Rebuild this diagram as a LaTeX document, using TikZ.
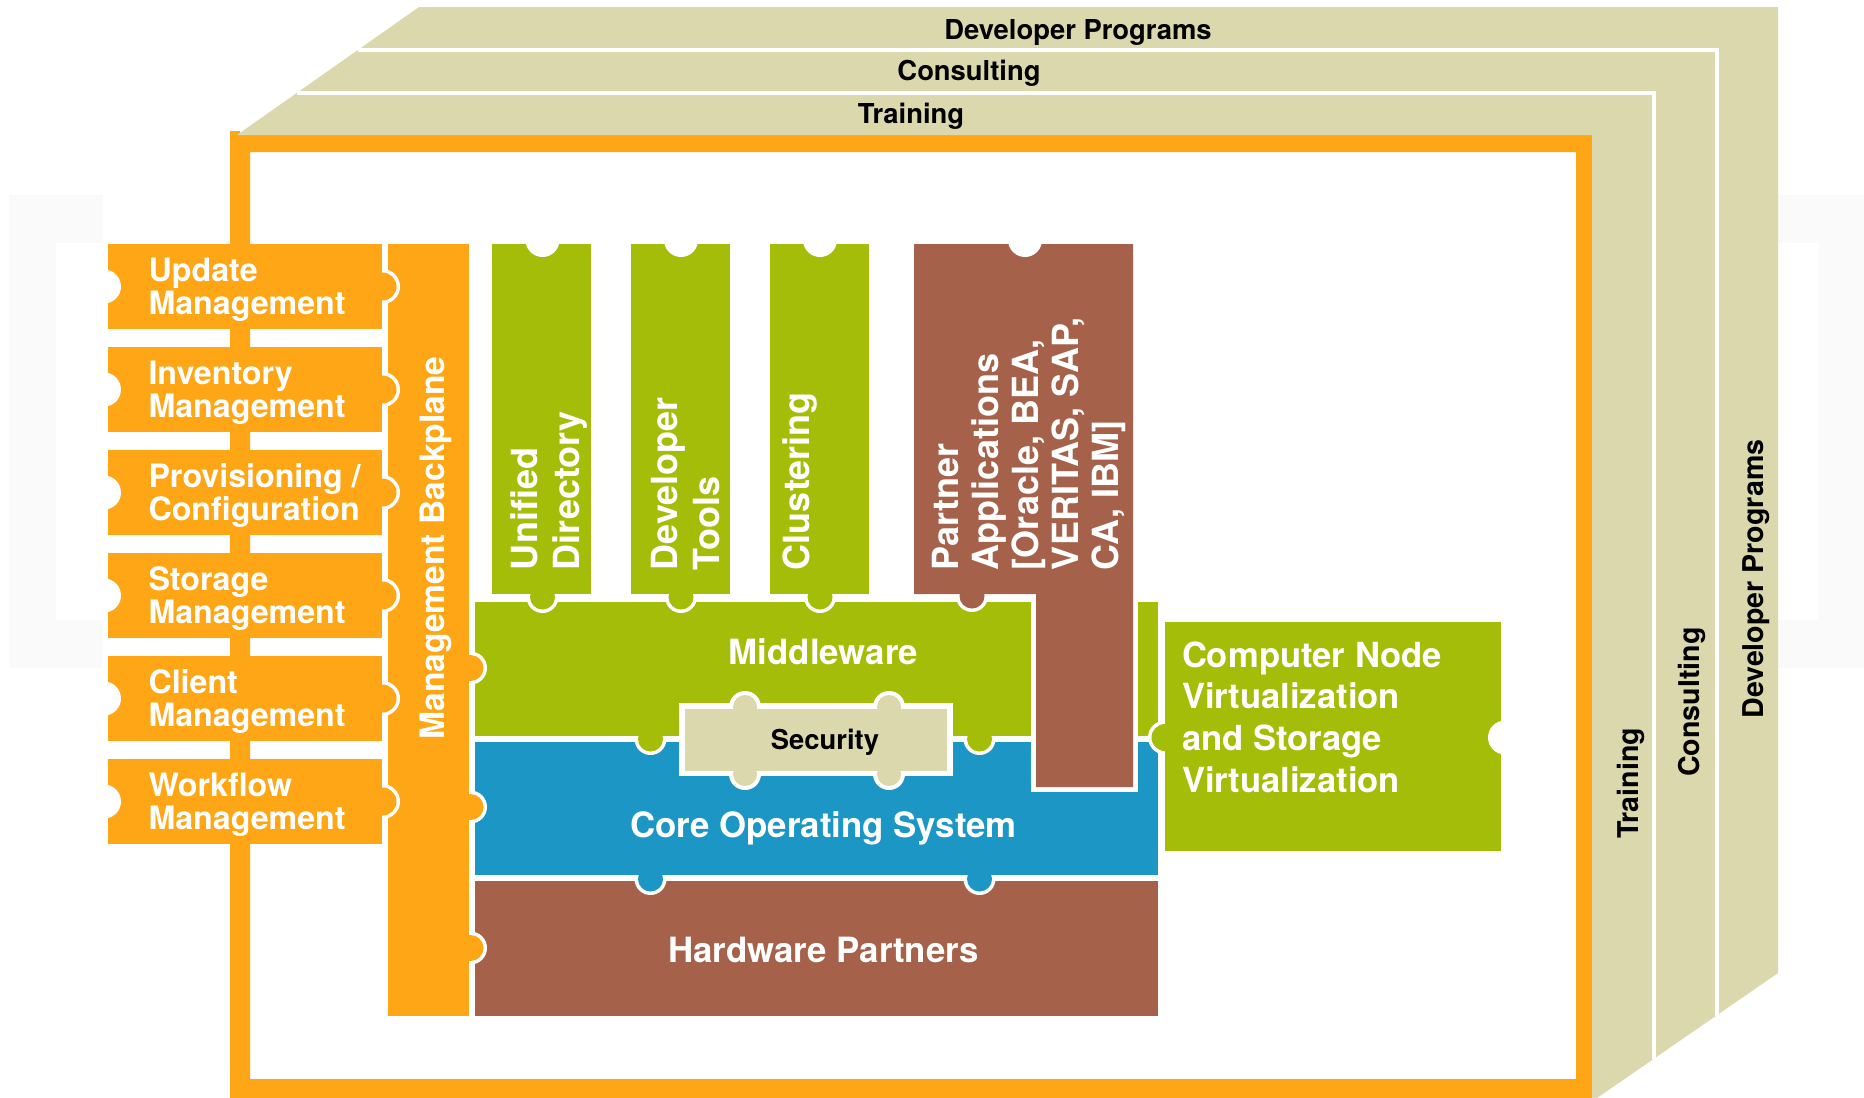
\documentclass[tikz,border=0pt]{standalone}
\usepackage{fontspec}
\setmainfont{TeX Gyre Heros}
\definecolor{cOrange}{HTML}{FFA616}
\definecolor{cGreen}{HTML}{A3BD08}
\definecolor{cBlue}{HTML}{1C96C4}
\definecolor{cBrown}{HTML}{A5614A}
\definecolor{cBeige}{HTML}{DAD8AC}
\definecolor{cFaint}{HTML}{FAFAFA}
% px-sized circle
\newcommand{\knob}[4]{\fill[#1] (#2,#3) circle[radius=#4*0.5pt];}
% tab: white ring then coloured core; the owning box is drawn afterwards
\newcommand{\tabx}[5]{\knob{white}{#2}{#3}{#4}\knob{#1}{#2}{#3}{#5}}
\tikzset{
  lab/.style={inner sep=0pt,outer sep=0pt,font=\bfseries},
  wlab/.style={lab,text=white},
  itemlab/.style={wlab,align=left,anchor=south west,font=\fontsize{16.1}{16.8}\selectfont\bfseries},
  collab/.style={wlab,align=left,rotate=90,anchor=south west,font=\fontsize{18}{20.8}\selectfont\bfseries},
  partlab/.style={wlab,align=left,rotate=90,anchor=south west,font=\fontsize{18}{20}\selectfont\bfseries},
  layerlab/.style={lab,text=black,anchor=base,font=\fontsize{13.7}{16}\selectfont\bfseries},
  sidelab/.style={lab,text=black,anchor=base,rotate=90,font=\fontsize{14.3}{16}\selectfont\bfseries},
  stacklab/.style={wlab,anchor=base,font=\fontsize{17.4}{20}\selectfont\bfseries},
}
\begin{document}
\begin{tikzpicture}[x=0.5pt,y=-0.5pt]
\useasboundingbox (0,0) rectangle (1864,1098);
% faint backdrop
\fill[cFaint] (9,195) rectangle (103,668);
\fill[white] (56,243) rectangle (103,620);
\fill[cFaint] (1778,195) rectangle (1864,668);
\fill[white] (1778,243) rectangle (1819,620);
% orange frame
\fill[cOrange,even odd rule] (230,131) -- (240,131) -- (240,135) -- (1592,135) -- (1592,1098) -- (230,1098) -- cycle
  (250,152) rectangle (1576,1079);
% beige layers
\fill[cBeige] (237,135) -- (419,7) -- (1778,7) -- (1778,973) -- (1597,1098) -- (1592,1098) -- (1592,135) -- cycle;
\draw[white,line width=1.7pt] (358,50) -- (1717,50) -- (1717,1016);
\draw[white,line width=1.7pt] (297,93) -- (1654,93) -- (1654,1059);
% hardware, core, middleware, each over the tabs of the one above
\fill[cBrown] (474.5,881) rectangle (1158,1016);
\tabx{cBlue}{650.5}{879}{16}{12.5}
\tabx{cBlue}{979.5}{879}{16}{12.5}
\fill[cBlue] (474.5,742) rectangle (1158,875);
\tabx{cGreen}{650.5}{739}{16}{12.5}
\tabx{cGreen}{979.5}{739}{16}{12.5}
\fill[cGreen] (474.5,602) rectangle (1158,736);
% backplane
\tabx{cOrange}{470.5}{668}{16.5}{13}
\tabx{cOrange}{470.5}{807}{16.5}{13}
\tabx{cOrange}{470.5}{948}{16.5}{13}
\fill[cOrange] (388,244) rectangle (469,1016);
% left items
\foreach \t in {244,347,450,553,656,759}{
  \pgfmathsetmacro{\c}{\t+42.5}
  \tabx{cOrange}{382.5}{\c}{17.5}{14}
  \fill[cOrange] (108,\t) rectangle (382,\t+85);
  \knob{white}{104}{\c}{17}
}
% security
\fill[white] (678.5,703) rectangle (952.5,776);
\foreach \x in {745,889}{
  \knob{white}{\x}{707}{16}
  \knob{white}{\x}{774}{16}
}
\fill[cBeige] (685,709) rectangle (947,771);
\foreach \x in {745,889}{
  \knob{cBeige}{\x}{707}{12}
  \knob{cBeige}{\x}{774}{12}
}
% columns
\foreach \l/\r/\m in {492/590.5/542.5,631/730/681,770/869/820}{
  \tabx{cGreen}{\m}{597}{16}{12.5}
  \fill[cGreen] (\l,244) rectangle (\r,594);
  \knob{white}{\m}{240}{17}
}
% partner applications
\fill[white] (1031,594) rectangle (1138,792);
\tabx{cBrown}{972}{596}{16}{12.5}
\fill[cBrown] (914,244) -- (1133,244) -- (1133,787) -- (1036,787) -- (1036,594) -- (914,594) -- cycle;
\knob{white}{1025}{240}{17}
% computer node
\tabx{cGreen}{1165}{737.5}{17}{13.5}
\fill[cGreen] (1164.5,622) rectangle (1501,851);
\knob{white}{1505}{737.5}{17}
% labels
\node[layerlab] (devtop) at (1078,39.5) {Developer Programs};
\node[layerlab] (contop) at (969,80.5) {Consulting};
\node[layerlab] (tratop) at (911,123) {Training};
\node[sidelab] (traside) at (1638.5,783.5) {Training};
\node[sidelab] (conside) at (1699.5,702) {Consulting};
\node[sidelab] (devside) at (1763.5,579) {Developer Programs};
\node[itemlab] (update) at (148.5,325) {Update\\Management\strut};
\node[itemlab] (inventory) at (148.5,428) {Inventory\\Management\strut};
\node[itemlab] (prov) at (148.5,531) {Provisioning /\\Configuration\strut};
\node[itemlab] (storage) at (148.5,634) {Storage\\Management\strut};
\node[itemlab] (client) at (148.5,737) {Client\\Management\strut};
\node[itemlab] (workflow) at (148.5,840) {Workflow\\Management\strut};
\node[stacklab,rotate=90,font=\fontsize{16.8}{20}\selectfont\bfseries] (backplane) at (444,548) {Management Backplane};
\node[collab] (unified) at (592,570) {Unified\\Directory\strut};
\node[collab] (devtools) at (731.5,570) {Developer\\Tools\strut};
\node[collab] (clustering) at (821.5,570) {Clustering\strut};
\node[partlab] (partner) at (1130.5,570) {Partner\\Applications\\{[}Oracle, BEA,\\VERITAS, SAP,\\CA, IBM{]}\strut};
\node[stacklab] (middleware) at (823.5,664) {Middleware};
\node[layerlab] (security) at (825,749) {Security};
\node[stacklab] (coreos) at (823.5,837) {Core Operating System};
\node[stacklab] (hardware) at (823.5,962) {Hardware Partners};
\node[wlab,align=left,anchor=south west,font=\fontsize{17.3}{20.8}\selectfont\bfseries] (compnode) at (1182,804.5) {Computer Node\\Virtualization\\and Storage\\Virtualization\strut};
\end{tikzpicture}
\end{document}
